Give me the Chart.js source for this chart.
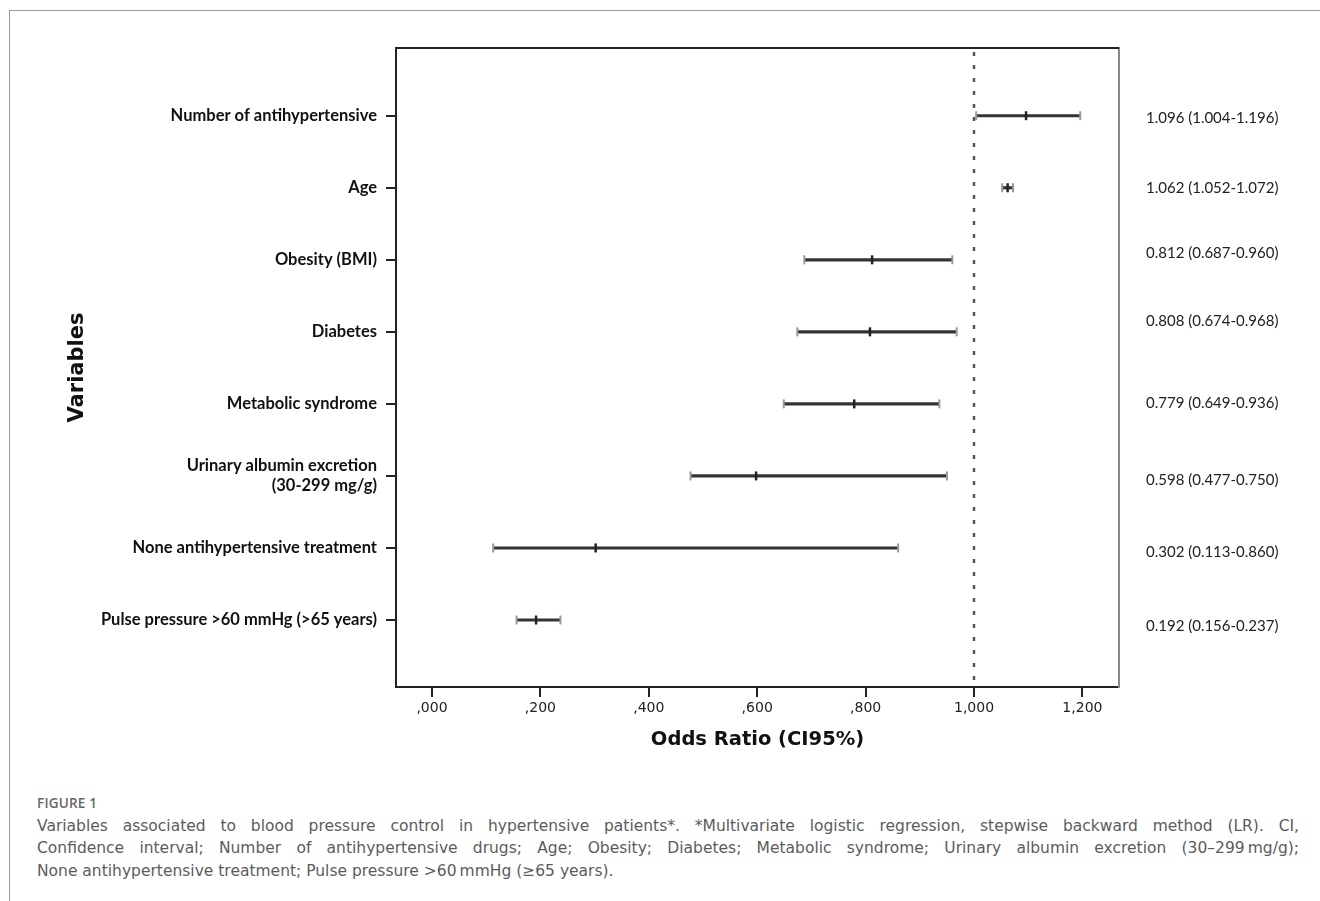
<!DOCTYPE html>
<html>
<head>
<meta charset="utf-8">
<script src="https://cdn.jsdelivr.net/npm/chart.js@4.4.0/dist/chart.umd.min.js"></script>
<style>
  body { margin: 0; background: #fff; width: 1320px; height: 901px; overflow: hidden; position: relative; }
  #frame { position: absolute; left: 9px; top: 10px; width: 1330px; height: 910px; border-left: 1.5px solid #9a9a9a; border-top: 1.5px solid #9a9a9a; }
  #wrap { position: absolute; left: 0; top: 0; width: 1320px; height: 790px; }
  #caption { position: absolute; left: 37px; top: 792px; width: 1262px; font-family: "DejaVu Sans", sans-serif; color: #5c5c5c; font-size: 15.5px; line-height: 22.5px; }
  #caption .fig { font-family: "Open Sans", sans-serif; font-size: 13.5px; font-weight: 600; color: #666; letter-spacing: 0.2px; }
  #caption .ln { text-align: justify; text-align-last: justify; }
</style>
</head>
<body>
<div id="frame"></div>
<div id="wrap"><canvas id="myChart"></canvas></div>
<div id="caption">
  <div class="fig">FIGURE 1</div>
  <div class="ln">Variables associated to blood pressure control in hypertensive patients*. *Multivariate logistic regression, stepwise backward method (LR). CI,</div>
  <div class="ln">Confidence interval; Number of antihypertensive drugs; Age; Obesity; Diabetes; Metabolic syndrome; Urinary albumin excretion (30&#8211;299&#8201;mg/g);</div>
  <div>None antihypertensive treatment; Pulse pressure &gt;60&#8201;mmHg (&#8805;65 years).</div>
</div>
<script>
// variables (top to bottom)
const categories = [
  "Number of antihypertensive",
  "Age",
  "Obesity (BMI)",
  "Diabetes",
  "Metabolic syndrome",
  ["Urinary albumin excretion", "(30-299 mg/g)"],
  "None antihypertensive treatment",
  "Pulse pressure >60 mmHg (>65 years)"
];
// values as drawn in the figure (urinary upper whisker reaches ~0.95 in the picture)
const oddsRatio = [1.096, 1.062, 0.812, 0.808, 0.779, 0.598, 0.302, 0.192];
const ciLow = [1.004, 1.052, 0.687, 0.674, 0.649, 0.477, 0.113, 0.156];
const ciHigh = [1.196, 1.072, 0.960, 0.968, 0.936, 0.950, 0.860, 0.237];
const ciText = [
  "1.096 (1.004-1.196)",
  "1.062 (1.052-1.072)",
  "0.812 (0.687-0.960)",
  "0.808 (0.674-0.968)",
  "0.779 (0.649-0.936)",
  "0.598 (0.477-0.750)",
  "0.302 (0.113-0.860)",
  "0.192 (0.156-0.237)"
];
const xTickValues = [0, 0.2, 0.4, 0.6, 0.8, 1.0, 1.2];
const xTickLabels = [",000", ",200", ",400", ",600", ",800", "1,000", "1,200"];
const refLine = 1.0;

// the right-hand text column is not perfectly aligned to the rows in the original
const ciTextNudge = [2, 0, -7, -11, -1, 4, 4, 6];

const rows = categories.map((c, i) => i);

const frameAndRef = {
  id: "frameAndRef",
  beforeDatasetsDraw(chart) {
    const { ctx, chartArea } = chart;
    const x = chart.scales.x.getPixelForValue(refLine);
    ctx.save();
    ctx.strokeStyle = "#555";
    ctx.lineWidth = 2.5;
    ctx.setLineDash([4, 9]);
    ctx.beginPath();
    ctx.moveTo(x, chartArea.top + 4);
    ctx.lineTo(x, chartArea.bottom);
    ctx.stroke();
    ctx.setLineDash([]);
    ctx.strokeStyle = "#222";
    ctx.lineWidth = 2;
    ctx.beginPath();
    ctx.moveTo(chartArea.left, chartArea.top);
    ctx.lineTo(chartArea.right, chartArea.top);
    ctx.stroke();
    ctx.restore();
  },
  afterDraw(chart) {
    const { ctx, chartArea } = chart;
    const y = chart.scales.y;
    ctx.save();
    ctx.font = "15px Lato";
    ctx.fillStyle = "#222";
    ctx.textAlign = "left";
    ctx.textBaseline = "middle";
    rows.forEach((i) => {
      ctx.fillText(ciText[i], chartArea.right + 27, y.getPixelForValue(i) + ciTextNudge[i]);
    });
    ctx.restore();
  }
};

const yRange = { min: -0.94, max: 7.93 };

let ctx = document.getElementById("myChart").getContext("2d");
let myChart = new Chart(ctx, {
  type: "scatter",
  data: {
    datasets: [
      {
        type: "bar",
        indexAxis: "y",
        data: rows.map((i) => ({ x: [ciLow[i], ciHigh[i]], y: i })),
        backgroundColor: "#333",
        barThickness: 2.5,
        xAxisID: "x",
        yAxisID: "y",
        order: 2
      },
      {
        data: rows.map((i) => ({ x: ciLow[i], y: i })).concat(rows.map((i) => ({ x: ciHigh[i], y: i }))),
        pointStyle: "line",
        rotation: 90,
        radius: 4.5,
        borderWidth: 2,
        borderColor: "#999",
        order: 1
      },
      {
        data: rows.map((i) => ({ x: oddsRatio[i], y: i })),
        pointStyle: "line",
        rotation: 90,
        radius: 4.5,
        borderWidth: 2.5,
        borderColor: "#222",
        order: 0
      }
    ]
  },
  options: {
    responsive: true,
    maintainAspectRatio: false,
    animation: false,
    layout: { padding: { left: 60, top: 48, right: 0, bottom: 34 } },
    plugins: { legend: { display: false }, tooltip: { enabled: false } },
    scales: {
      x: {
        type: "linear",
        min: -0.0664,
        max: 1.2675,
        afterBuildTicks: (s) => { s.ticks = xTickValues.map((v) => ({ value: v })); },
        ticks: {
          callback: (v, i) => xTickLabels[i],
          font: { family: "DejaVu Sans", size: 14 },
          color: "#222",
          padding: 3,
          maxRotation: 0,
          autoSkip: false
        },
        grid: { drawOnChartArea: false, tickLength: 10, color: "#222", lineWidth: 2 },
        border: { color: "#222", width: 2 },
        title: {
          display: true,
          text: "Odds Ratio (CI95%)",
          font: { family: "DejaVu Sans", weight: "bold", size: 19.5 },
          color: "#111",
          padding: { top: 12, bottom: 4 }
        },
        afterFit: (s) => { s.height = 69; }
      },
      y: {
        type: "linear",
        reverse: true,
        offset: false,
        min: yRange.min,
        max: yRange.max,
        afterBuildTicks: (s) => { s.ticks = rows.map((v) => ({ value: v })); },
        ticks: {
          callback: (v) => categories[v],
          font: { family: "Lato", weight: "bold", size: 16.5 },
          color: "#111",
          padding: 9,
          autoSkip: false
        },
        grid: { drawOnChartArea: false, offset: false, tickLength: 10, color: "#222", lineWidth: 2 },
        border: { color: "#222", width: 2 },
        title: {
          display: true,
          text: "Variables",
          font: { family: "DejaVu Sans", weight: "bold", size: 21 },
          color: "#111",
          padding: { top: 5, bottom: 0 }
        },
        afterFit: (s) => { s.width = 336; }
      },
      y2: {
        type: "linear",
        position: "right",
        reverse: true,
        offset: false,
        min: yRange.min,
        max: yRange.max,
        ticks: { display: false },
        grid: { display: false, drawTicks: false },
        border: { color: "#888", width: 2 },
        afterFit: (s) => { s.width = 201; }
      }
    }
  },
  plugins: [frameAndRef]
});
</script>
</body>
</html>
